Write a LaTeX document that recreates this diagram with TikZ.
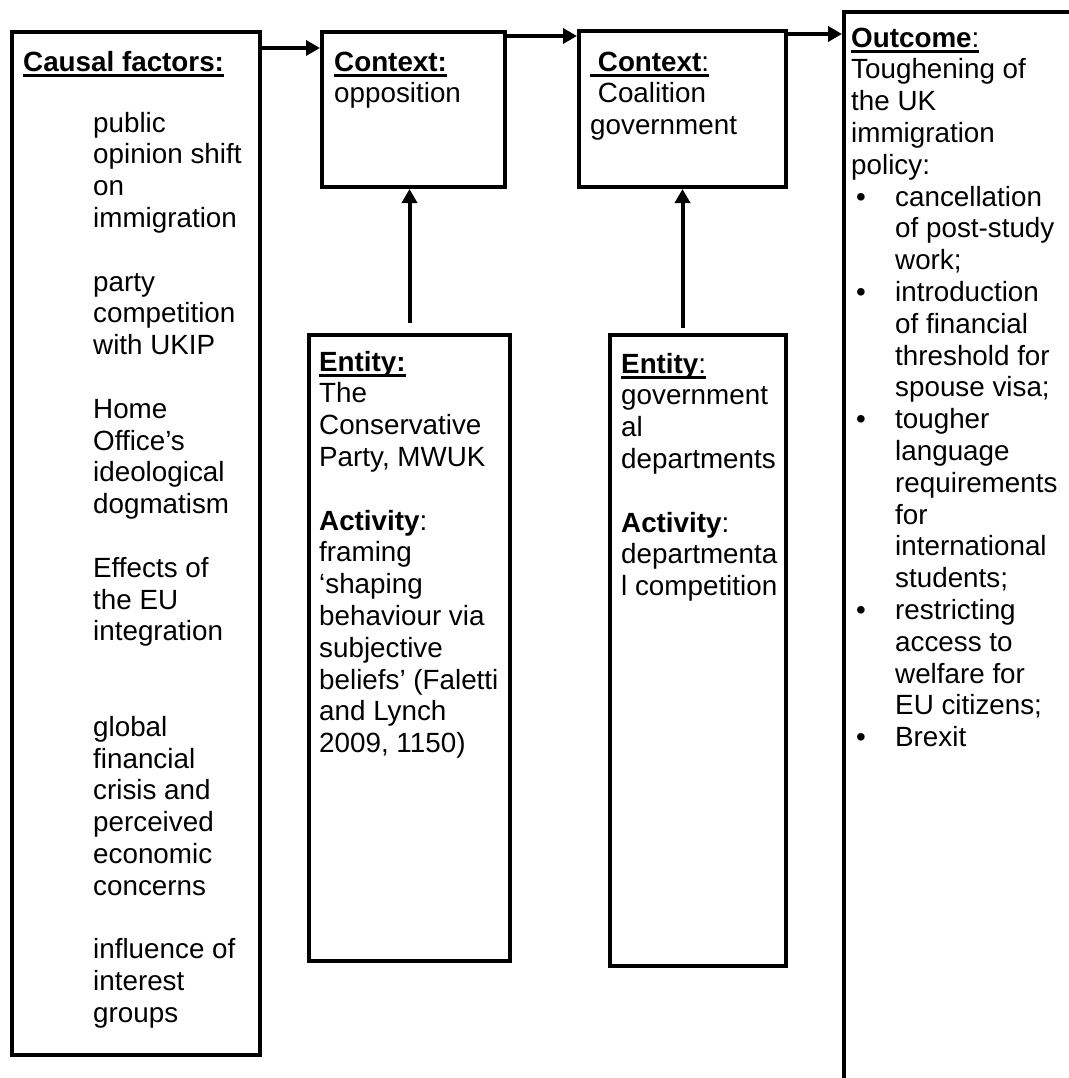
\documentclass[tikz,border=0pt]{standalone}
\usepackage{fontspec}
\setmainfont{Liberation Sans}
\usetikzlibrary{arrows.meta}
\usetikzlibrary{calc}
\newsavebox\hdbox
\newcommand{\hdul}[1]{\sbox\hdbox{#1}\rlap{\rule[-6pt]{\wd\hdbox}{3pt}}\usebox\hdbox}
\newcommand{\bitem}{\makebox[44pt][l]{\hspace{5pt}\textbullet}}
\newcommand{\bindent}{\hspace*{44pt}}

\begin{document}
\begin{tikzpicture}[x=1pt,y=-1pt]
\tikzstyle{every node}=[font=\fontsize{27.8}{31.8}\selectfont]
\tikzstyle{box}=[draw, line width=4pt, inner sep=0pt, anchor=north west]
\tikzstyle{txt}=[inner sep=0pt, anchor=north west, align=left]
\tikzstyle{flow}=[line width=4pt, -{Triangle[length=14pt,width=15pt]}]
\useasboundingbox (0,0) rectangle (1068,1078);
\node [box, minimum width=248pt, minimum height=1023pt] (causal) at (10,30) {};
\node [box, minimum width=183pt, minimum height=155pt] (ctxopp) at (320,30) {};
\node [box, minimum width=207pt, minimum height=156pt] (ctxcoal) at (577,29) {};
\node [box, minimum width=400pt, minimum height=1200pt] (outcome) at (842,10) {};
\node [box, minimum width=201pt, minimum height=626pt] (ent1) at (307,333) {};
\node [box, minimum width=176pt, minimum height=631pt] (ent2) at (608,333) {};
\node [txt] (causalhd) at (23,48.7) {\strut\hdul{\textbf{Causal factors:}}};
\node [txt] (causaltx) at (93,109.7) {\strut public\\ opinion shift\\ on\\ immigration\\[31.8pt]
party\\ competition\\ with UKIP\\[31.8pt]
Home\\ Office’s\\ ideological\\ dogmatism\\[31.8pt]
Effects of\\ the EU\\ integration\\[63.6pt]
global\\ financial\\ crisis and\\ perceived\\ economic\\ concerns\\[31.8pt]
influence of\\ interest\\ groups};
\node [txt] (ctxopptx) at (334,48.7) {\strut\hdul{\textbf{Context:}}\\ opposition};
\node [txt] (ctxcoaltx) at (590,48.7) {\strut\hdul{\ \textbf{Context}:}\\ \ Coalition\\ government};
\node [txt] (outcometx) at (851,24.7) {\strut\hdul{\textbf{Outcome}:}\\ Toughening of\\ the UK\\ immigration\\ policy:\\
\bitem cancellation\\ \bindent of post-study\\ \bindent work;\\
\bitem introduction\\ \bindent of financial\\ \bindent threshold for\\ \bindent spouse visa;\\
\bitem tougher\\ \bindent language\\ \bindent requirements\\ \bindent for\\ \bindent international\\ \bindent students;\\
\bitem restricting\\ \bindent access to\\ \bindent welfare for\\ \bindent EU citizens;\\
\bitem Brexit};
\node [txt] (ent1tx) at (319,348.7) {\strut\hdul{\textbf{Entity:}}\\ The\\ Conservative\\ Party, MWUK\\[31.8pt]
\textbf{Activity}:\\ framing\\ ‘shaping\\ behaviour via\\ subjective\\ beliefs’ (Faletti\\ and Lynch\\ 2009, 1150)};
\node [txt] (ent2tx) at (621,350.7) {\strut\hdul{\textbf{Entity}:}\\ government\\ al\\ departments\\[31.8pt]
\textbf{Activity}:\\ departmenta\\ l competition};
\coordinate (a1) at ([yshift=-18pt]causal.north east);
\coordinate (a2) at ([yshift=-6pt]ctxopp.north east);
\coordinate (a3) at ([yshift=-5pt]ctxcoal.north east);
\coordinate (u1) at ([yshift=10pt]ent1.north);
\coordinate (u2) at ($(ctxcoal.south |- ent2.north)+(0,-5)$);
\draw [flow] (a1) -- (a1 -| ctxopp.west);
\draw [flow] (a2) -- (a2 -| ctxcoal.west);
\draw [flow] (a3) -- (a3 -| outcome.west);
\draw [flow] (u1) -- (u1 |- ctxopp.south);
\draw [flow] (u2) -- (u2 |- ctxcoal.south);
\end{tikzpicture}
\end{document}
